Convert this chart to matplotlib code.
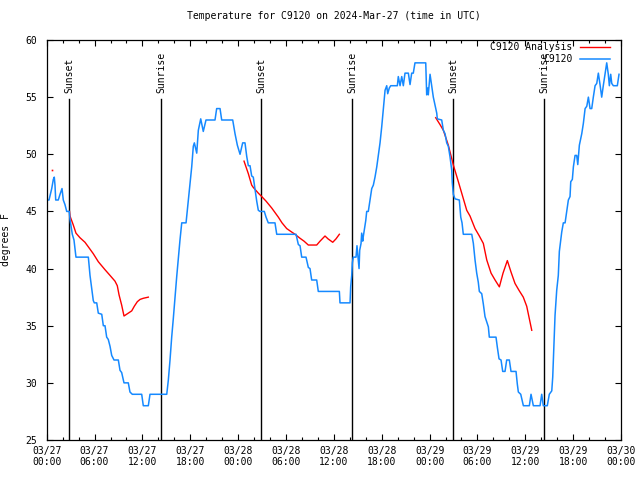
import matplotlib
matplotlib.use("Agg")
import matplotlib.pyplot as plt
import numpy as np
from matplotlib.ticker import MultipleLocator

plt.rcParams['font.family'] = ['DejaVu Sans Mono']

# hours after 03/27 00:00 UTC, station reading (degrees F)
obs_hours = [0.00, 0.29, 0.63, 0.83, 0.95, 1.04, 1.13, 1.45, 1.67, 1.92, 2.08, 2.29, 2.51, 2.83,
             2.92, 3.21, 3.42, 3.67, 5.22, 5.43, 5.64, 5.84, 5.97, 6.27, 6.47, 6.90, 7.10, 7.31,
             7.52, 7.72, 7.94, 8.15, 8.44, 8.98, 9.19, 9.40, 9.69, 10.23, 10.44, 10.73, 11.91,
             12.11, 12.74, 12.95, 15.05, 15.25, 15.46, 15.67, 15.87, 16.09, 16.30, 16.50, 16.71,
             16.93, 17.47, 17.63, 17.75, 17.97, 18.18, 18.38, 18.51, 18.81, 19.01, 19.31, 19.63,
             19.97, 21.10, 21.31, 21.73, 21.94, 23.32, 23.61, 23.90, 24.24, 24.57, 24.86, 25.08,
             25.28, 25.49, 25.70, 25.90, 26.12, 26.33, 26.53, 26.74, 27.28, 27.50, 27.78, 28.62,
             28.84, 31.26, 31.55, 31.76, 31.97, 32.51, 32.80, 33.01, 33.22, 33.85, 34.05, 36.69,
             36.77, 38.03, 38.11, 38.24, 38.32, 38.44, 38.78, 38.90, 39.07, 39.16, 39.24, 39.41,
             39.49, 39.62, 39.69, 39.82, 40.00, 40.12, 40.32, 40.54, 40.75, 40.95, 41.16, 41.38,
             41.58, 41.79, 42.00, 42.20, 42.42, 42.63, 42.75, 42.95, 43.13, 43.96, 44.08, 44.30,
             44.51, 44.71, 44.92, 45.34, 45.55, 45.76, 45.96, 46.17, 47.52, 47.64, 47.77, 47.84,
             48.06, 48.27, 48.47, 48.68, 48.90, 48.97, 49.52, 49.73, 49.94, 50.15, 50.35, 50.56,
             50.78, 50.85, 50.98, 51.19, 51.73, 51.91, 52.07, 52.23, 53.29, 53.49, 53.70, 53.91,
             54.11, 54.24, 54.54, 54.74, 54.95, 55.37, 55.49, 56.33, 56.50, 56.71, 56.96, 57.17,
             57.46, 57.67, 58.00, 58.21, 58.84, 59.00, 59.13, 59.43, 59.76, 60.51, 60.72, 61.01,
             61.85, 62.06, 62.26, 62.76, 63.01, 63.32, 63.44, 63.52, 63.64, 63.73, 63.94, 64.14,
             64.27, 64.44, 64.57, 64.77, 64.99, 65.20, 65.40, 65.61, 65.70, 65.90, 66.03, 66.24,
             66.45, 66.58, 66.78, 67.08, 67.28, 67.50, 67.71, 67.91, 68.12, 68.33, 68.53, 68.75,
             68.96, 69.16, 69.37, 69.58, 69.78, 70.00, 70.21, 70.41, 70.54, 70.71, 70.84, 71.04,
             71.54, 71.75]
obs_temp = [46, 46, 47, 47.8, 48, 47.3, 46, 46, 46.5, 47, 46, 45.6, 45, 45,
            44.3, 43, 42.5, 41, 41, 39.4, 38.3, 37.2, 37, 37, 36.1, 36, 35, 35,
            34, 33.8, 33.2, 32.4, 32, 32, 31.1, 30.9, 30, 30, 29.2, 29, 29,
            28, 28, 29, 29, 30.25, 32, 34, 35.6, 37.5, 39.3, 40.9, 42.5,
            44, 44, 45.1, 46, 47.5, 48.9, 50.7, 51, 50.1, 52.1, 53.1, 52,
            53, 53, 54, 54, 53, 53, 51.8, 50.8, 50, 51, 51, 49.8,
            49, 49, 48.1, 48, 46.9, 45.9, 45.1, 45, 45, 44.5, 44, 44,
            43, 43, 42.1, 42, 41, 41, 40.1, 40, 39, 39, 38, 38,
            37, 37, 38.4, 39.4, 40.5, 41, 41, 42, 40.75, 40, 41.6, 42.2,
            43.1, 42.4, 42.8, 43.4, 44.2, 45, 45, 46, 47, 47.3, 48, 48.9,
            49.9, 51, 52.4, 53.9, 55.6, 56, 55.3, 55.8, 56, 56, 56.8, 56,
            56.8, 56, 57.1, 57.1, 56.1, 57.1, 57.1, 58, 58, 55.2, 55.8, 55.2,
            57, 56, 55, 54.3, 53.6, 53.1, 53, 52.1, 51.8, 51, 50.7, 49.8,
            48.6, 47.5, 46.5, 46.1, 46, 44.5, 44, 43, 43, 42.2, 40.75, 39.6,
            38.8, 38, 37.8, 36.9, 35.8, 34.9, 34, 34, 33.1, 32.1, 32, 31,
            31, 32, 32, 31, 31, 29.9, 29.2, 29, 28, 28, 29, 28,
            28, 29, 28, 28, 29, 29.3, 30.5, 32, 34, 35.9, 38.1, 39.4,
            41.5, 42.5, 43.2, 44, 44, 45, 46, 46.3, 47.6, 47.8, 48.9, 49.9,
            49.9, 49.1, 50.8, 51.8, 52.7, 54, 54.2, 55, 54, 54, 55, 56,
            56.2, 57.1, 56.1, 55, 56, 57, 58, 57, 56, 57, 56.2, 56,
            56, 57]

# analysis series, None marks a gap between runs
ana_hours = [2.86, 2.92, 3.34, 3.67, 4.17, 4.80, 5.22, 5.84, 6.47, 7.31, 7.94, 8.56, 8.85,
             9.07, 9.40, 9.69, 10.23, 10.66, 10.98, 11.36, 11.70, 12.11, 12.74, None,
             24.74, 25.28, 25.70, 25.90, 26.53, 26.96, 27.50, 28.21, 29.04, 29.50, 30.09,
             30.50, 31.13, 31.76, 32.26, 32.80, 33.85, 34.27, 34.89, 35.27, 35.86, 36.27,
             36.69, None,
             48.77, 49.31, 49.73, 50.35, 50.98, 51.61, 52.03, 52.66, 53.07, 53.70, 54.20,
             54.74, 55.17, 55.71, 56.21, 56.75, 57.21, 57.75, 58.21, 58.71, 59.21, 59.75,
             60.18, 60.81]
ana_temp = [45, 44.6, 43.8, 43.1, 42.7, 42.3, 41.9, 41.3, 40.6, 39.9, 39.4, 38.9, 38.5,
            37.7, 36.8, 35.85, 36.1, 36.3, 36.7, 37.1, 37.3, 37.4, 37.5, None,
            49.4, 48.3, 47.3, 47.1, 46.6, 46.3, 45.9, 45.3, 44.5, 44.0, 43.5,
            43.3, 43.0, 42.65, 42.4, 42.06, 42.06, 42.4, 42.85, 42.6, 42.3, 42.6,
            43.0, None,
            53.2, 52.6, 52.1, 50.8, 49.06, 47.6, 46.6, 45.1, 44.6, 43.5, 42.9,
            42.2, 40.75, 39.6, 39.0, 38.4, 39.6, 40.7, 39.7, 38.7, 38.1, 37.5,
            36.7, 34.6]
# lone analysis reading early on 03/27
ana_single_hour = [0.70]
ana_single_temp = [48.6]

sun_hours = [2.83, 14.33, 26.91, 38.30, 50.98, 62.36]
sun_labels = ["Sunset", "Sunrise", "Sunset", "Sunrise", "Sunset", "Sunrise"]

tick_hours = list(range(0, 73, 6))
tick_labels = ["03/27\n00:00", "03/27\n06:00", "03/27\n12:00", "03/27\n18:00",
               "03/28\n00:00", "03/28\n06:00", "03/28\n12:00", "03/28\n18:00",
               "03/29\n00:00", "03/29\n06:00", "03/29\n12:00", "03/29\n18:00",
               "03/30\n00:00"]

ana_hours = np.array([np.nan if v is None else v for v in ana_hours])
ana_temp = np.array([np.nan if v is None else v for v in ana_temp])

fig = plt.figure(figsize=(6.4, 4.8), dpi=100)
ax = fig.add_axes([46.7 / 640, 40 / 480, 574.3 / 640, 400 / 480])

# sunrise / sunset markers
for h, lab in zip(sun_hours, sun_labels):
    ax.plot([h, h], [25, 54.85], color='black', lw=1.0)
    ax.text(h, 55.4, lab, rotation=90, ha='center', va='bottom', fontsize=7)

l_ana, = ax.plot(ana_hours, ana_temp, color='red', lw=1.0, label="C9120 Analysis")
ax.plot(ana_single_hour, ana_single_temp, 's', color='red', markersize=1.2, markeredgewidth=0)
l_obs, = ax.plot(obs_hours, obs_temp, color='#1589ff', lw=1.1, label="C9120")

ax.set_xlim(0, 72)
ax.set_ylim(25, 60)
ax.set_xticks(tick_hours)
ax.set_xticklabels(tick_labels)
ax.xaxis.set_minor_locator(MultipleLocator(2))
ax.set_yticks(np.arange(25, 61, 5))
ax.tick_params(which='both', direction='in', top=True, right=True, labelsize=7, width=0.8)
ax.tick_params(which='major', length=4.5, pad=4)
ax.tick_params(which='minor', length=2.2)
ax.tick_params(axis='y', pad=7)
for s in ax.spines.values():
    s.set_linewidth(0.9)

ax.set_title("Temperature for C9120 on 2024-Mar-27 (time in UTC)", fontsize=7, pad=15)
ax.set_ylabel("degrees F", fontsize=7, labelpad=10)

ax.legend(handles=[l_ana, l_obs], loc='upper right', bbox_to_anchor=(0.98, 0.995),
          frameon=False, fontsize=7, markerfirst=False, handlelength=3.0,
          handletextpad=0.8, labelspacing=0.25, borderpad=0, borderaxespad=0)

fig.savefig("out.png", dpi=100)
